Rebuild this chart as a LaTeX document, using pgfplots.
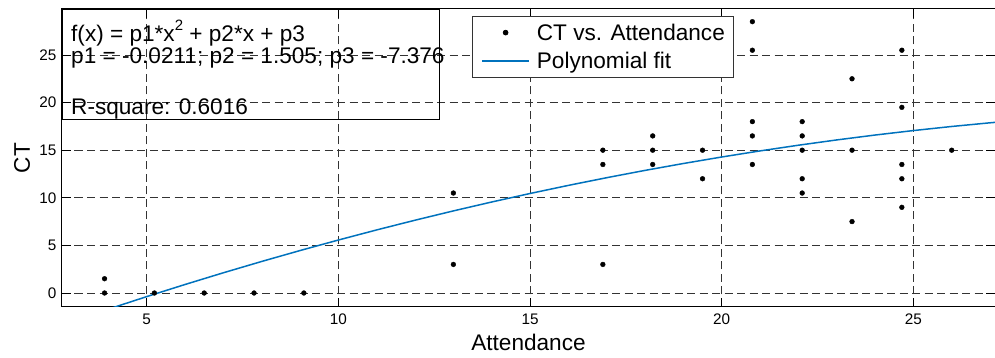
\documentclass[border=0pt]{standalone}
\usepackage{pgfplots}
\pgfplotsset{compat=1.18}
\usepackage{fontspec}
\setmainfont{Liberation Sans}
\definecolor{mblue}{RGB}{0,114,189}
\newcommand{\bigf}{\fontsize{22.6}{27}\selectfont}
\newcommand{\tickf}{\fontsize{15.3}{18}\selectfont}

\begin{document}
\begin{tikzpicture}
\begin{axis}[
  width=933pt, height=298pt, scale only axis,
  xmin=2.79, xmax=27.13, ymin=-1.47, ymax=29.83,
  xtick={5,10,15,20,25}, ytick={0,5,10,15,20,25},
  tick align=inside, major tick length=9pt,
  tick style={black, line width=0.8pt},
  axis line style={black, line width=1pt},
  grid=major,
  major grid style={black!80, line width=0.7pt, dash pattern=on 8pt off 4.5pt},
  /pgf/number format/assume math mode=true,
  ticklabel style={font=\tickf, inner sep=0pt},
  xticklabel style={anchor=base, yshift=-17.5pt},
  yticklabel style={anchor=east, xshift=-5.3pt},
  every axis x label/.style={at={(axis description cs:0.5,-0.1443)}, anchor=base, font=\bigf},
  every axis y label/.style={at={(axis description cs:-0.0343,0.5)}, rotate=90, anchor=base, font=\bigf},
  xlabel={Attendance}, ylabel={CT},
  legend image code/.code={\draw[mark repeat=2,mark phase=2,#1] plot coordinates {(0pt,0pt) (23.5pt,0pt) (47pt,0pt)};},
  legend cell align=left,
  legend style={at={(axis description cs:0.4394,0.9775)}, anchor=north west,
    draw=black!80, line width=0.8pt, inner xsep=9pt, inner ysep=4pt,
    font=\bigf, nodes={inner sep=0pt, text height=20pt, text depth=5pt},
    column sep=7pt, row sep=3.6pt},
]
\addplot[only marks, mark=*, mark size=2.4pt, mark options={fill=black, draw=black}] coordinates {
  (3.9,1.5) (3.9,0) (5.2,0) (6.5,0) (7.8,0) (9.1,0) (13.0,10.5) (13.0,3)
  (16.9,15) (16.9,13.5) (16.9,3)
  (18.2,16.5) (18.2,15) (18.2,13.5)
  (19.5,15) (19.5,12)
  (20.8,28.5) (20.8,25.5) (20.8,18) (20.8,16.5) (20.8,13.5)
  (22.1,18) (22.1,16.5) (22.1,15) (22.1,12) (22.1,10.5)
  (23.4,22.5) (23.4,15) (23.4,7.5)
  (24.7,25.5) (24.7,19.5) (24.7,13.5) (24.7,12) (24.7,9)
  (26.0,15)
};
\addlegendentry{CT vs. Attendance}
\addplot[mblue, line width=1.5pt, no marks, legend image post style={line width=1.5pt}] coordinates {
  (3,-3.0499) (4,-1.6936) (5,-0.3785) (6,0.8944) (7,2.1251) (8,3.3136) (9,4.4599)
  (10,5.5640) (11,6.6259) (12,7.6456) (13,8.6231) (14,9.5584) (15,10.4515)
  (16,11.3024) (17,12.1111) (18,12.8776) (19,13.6019) (20,14.2840)
  (21,14.9239) (22,15.5216) (23,16.0771) (24,16.5904) (25,17.0615)
  (26,17.4904) (27,17.8771) (28,18.2216)
};
\addlegendentry{Polynomial fit}
\end{axis}
\draw[black, line width=0.6pt] (0pt,298pt) rectangle (377pt,188pt);
\node[anchor=base west, inner sep=0pt, font=\bigf] at (9pt,265pt) {f(x) = p1*x\raisebox{0.5em}{\fontsize{15}{15}\selectfont 2} + p2*x + p3};
\node[anchor=base west, inner sep=0pt, font=\bigf] at (9pt,243pt) {p1 = -0.0211; p2 = 1.505; p3 = -7.376};
\node[anchor=base west, inner sep=0pt, font=\bigf] at (9pt,192pt) {R-square: 0.6016};
\pgfresetboundingbox
\path (-62pt,-51pt) rectangle (933pt,307pt);
\end{tikzpicture}
\end{document}
